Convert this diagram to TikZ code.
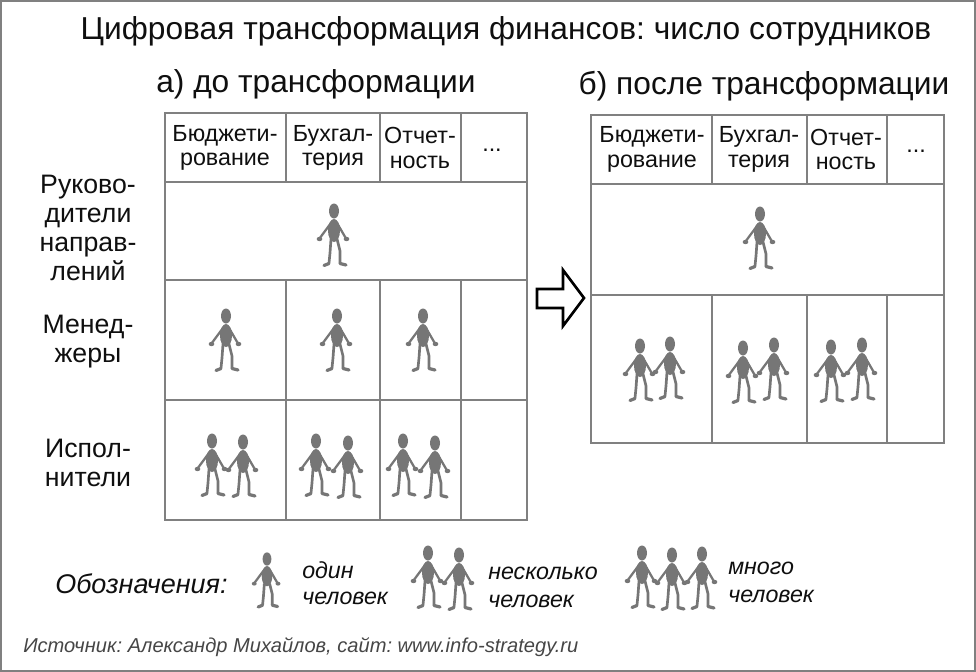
\documentclass[tikz,border=0pt]{standalone}
\usepackage{fontspec}
\setmainfont{Liberation Sans}
\frenchspacing
\newcommand{\pxs}[2]{\fontsize{\dimexpr#1pt*3/4\relax}{\dimexpr#2pt*3/4\relax}\selectfont}
\definecolor{gridc}{RGB}{128,128,128}
\definecolor{figc}{RGB}{118,118,118}
\definecolor{inkc}{RGB}{15,15,15}
\tikzset{
  x=0.75pt,y=-0.75pt,
  gridline/.style={draw=gridc,line width=2.1pt},
  hdr/.style={align=center,text=inkc,font=\pxs{23.3}{24.5},inner sep=0pt},
  side/.style={align=center,text=inkc,font=\pxs{26.7}{29},inner sep=0pt},
  sub/.style={anchor=center,text=inkc,font=\pxs{31.7}{36},inner sep=0pt},
  leg/.style={anchor=west,text=inkc,font=\itshape\pxs{23.2}{27},inner sep=0pt},
  person/.pic={
    \fill[figc] (0,0) ellipse[x radius=5,y radius=7.5];
    \fill[figc] (0,19.5) ellipse[x radius=6,y radius=11.5];
    \draw[figc,line width=1.7pt,line cap=round,line join=round] (-3,12) -- (-14.5,27.5);
    \draw[figc,line width=1.7pt,line cap=round,line join=round] (3,12) -- (12,27.5);
    \fill[figc] (-14.5,28) ellipse[x radius=2.8,y radius=2.2];
    \fill[figc] (12.5,28) ellipse[x radius=2.8,y radius=2.2];
    \draw[figc,line width=2pt,line join=round] (-3,28) -- (-4,42) -- (-5,52);
    \draw[figc,line width=2pt,line join=round] (3,28) -- (6,40) -- (6,52);
    \draw[figc,line width=2.4pt,line cap=round] (-5,52.5) -- (-10,54.5);
    \draw[figc,line width=2.4pt,line cap=round] (6,52.5) -- (12,54);
  }
}
\begin{document}
\begin{tikzpicture}
\useasboundingbox (0,0) rectangle (976,672);
\fill[white] (0,0) rectangle (976,672);
\draw[draw=gridc,line width=1.7pt] (1.2,1.2) rectangle (974.8,670.8);

\node[text=inkc,font=\pxs{31.7}{36},inner sep=0pt] (title) at (506,31) {Цифровая трансформация финансов: число сотрудников};
\node[sub] (suba) at (316,84) {а) до трансформации};
\node[sub] (subb) at (764,86) {б) после трансформации};

% table a
\draw[gridline] (165,113) rectangle (527,520);
\draw[gridline] (165,182) -- (527,182) (165,280) -- (527,280) (165,400) -- (527,400);
\draw[gridline] (286,113) -- (286,182) (380,113) -- (380,182) (461,113) -- (461,182);
\draw[gridline] (286,280) -- (286,520) (380,280) -- (380,520) (461,280) -- (461,520);
\node[hdr] (a1) at (225,148) {Бюджети-\\рование};
\node[hdr] (a2) at (333,148) {Бухгал-\\терия};
\node[hdr] (a3) at (420,148) {Отчет-\\ность};
\node[hdr] (a4) at (492,150) {...};
\node[side] (s1) at (88,228) {Руково-\\дители\\направ-\\лений};
\node[side] (s2) at (88,342) {Менед-\\жеры};
\node[side] (s3) at (88,463) {Испол-\\нители};

% table b
\draw[gridline] (591,115) rectangle (944,443);
\draw[gridline] (591,184) -- (944,184) (591,295) -- (944,295);
\draw[gridline] (712,115) -- (712,184) (807,115) -- (807,184) (887,115) -- (887,184);
\draw[gridline] (712,295) -- (712,443) (807,295) -- (807,443) (887,295) -- (887,443);
\node[hdr] (b1) at (652,149.5) {Бюджети-\\рование};
\node[hdr] (b2) at (759,149.5) {Бухгал-\\терия};
\node[hdr] (b3) at (846,149.5) {Отчет-\\ность};
\node[hdr] (b4) at (916,151) {...};

% arrow
\draw[black,line width=2pt,line join=miter,fill=white] (537,289) -- (563,289) -- (563,270) -- (584,298) -- (563,326) -- (563,308) -- (537,308) -- cycle;

% people in the tables
\foreach \px/\py in {334/211, 226/316, 337/316, 423/316,
  212/441, 243/442, 316/441, 348/443, 403/441, 435/443,
  760/214, 640/346, 670/344, 743/348, 774/345, 831/347, 862/345}
  \pic at (\px,\py) {person};
% legend
\pic[scale=0.88] at (267,559) {person};
\foreach \px/\py in {428/553, 459/555, 642/553, 672/555, 702/554}
  \pic at (\px,\py) {person};

\node[anchor=west,text=inkc,font=\itshape\pxs{27}{30},inner sep=0pt] (lg) at (55,584) {Обозначения:};
\node[leg] (l1) at (302,570) {один};
\node[leg] (l2) at (302,598) {человек};
\node[leg] (l3) at (488,573) {несколько};
\node[leg] (l4) at (488,601) {человек};
\node[leg] (l5) at (728,568) {много};
\node[leg] (l6) at (728,596) {человек};
\node[anchor=west,text={rgb,255:red,70;green,70;blue,70},font=\itshape\pxs{20.1}{24},inner sep=0pt] (src) at (23,647) {Источник: Александр Михайлов, сайт: www.info-strategy.ru};
\end{tikzpicture}
\end{document}
